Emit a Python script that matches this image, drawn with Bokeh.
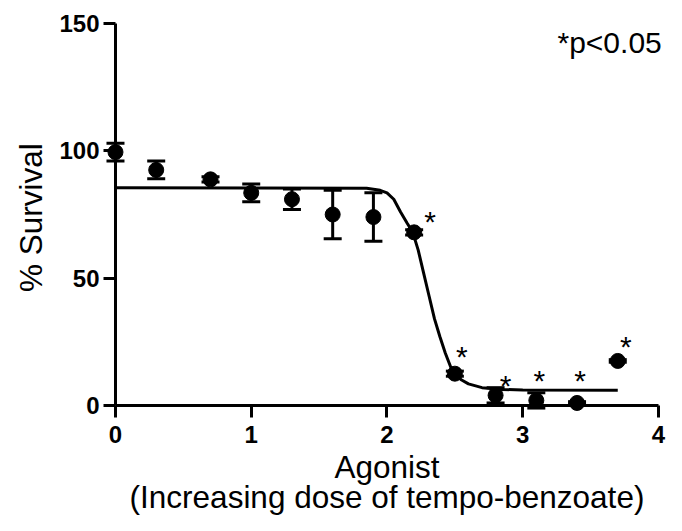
from bokeh.plotting import figure
from bokeh.models import Range1d, FixedTicker, Label, Whisker, TeeHead, ColumnDataSource
from bokeh.core.properties import value
from bokeh.embed import file_html
from bokeh.resources import INLINE

# ---- data ----
dose = [0.0, 0.3, 0.7, 1.0, 1.3, 1.6, 1.9, 2.2, 2.5, 2.8, 3.1, 3.4, 3.7]
survival = [99.5, 92.5, 88.8, 83.5, 81.0, 75.0, 74.0, 68.0, 12.5, 4.0, 2.0, 1.0, 17.5]
sem = [3.5, 3.5, 1.0, 3.5, 4.0, 9.5, 9.5, 1.0, 1.0, 3.0, 3.0, 0.5, 0.5]
significant = [False, False, False, False, False, False, False, True, True, True, True, True, True]

# fitted sigmoid
fit_x = [0.0, 1.85, 1.95, 2.0, 2.05, 2.1, 2.15, 2.19, 2.23, 2.27, 2.31, 2.35,
         2.39, 2.43, 2.47, 2.5, 2.55, 2.6, 2.7, 2.85, 3.0, 3.7]
fit_y = [85.5, 85.3, 84.5, 83.5, 81.0, 76.0, 71.5, 68.0, 61.0, 52.0, 43.0, 34.0,
         27.0, 20.5, 15.0, 12.0, 10.0, 8.5, 7.0, 6.3, 6.1, 6.0]

x_ticks = [0, 1, 2, 3, 4]
y_ticks = [0, 50, 100, 150]

x_title = "Agonist"
x_subtitle = "(Increasing dose of tempo-benzoate)"
y_title = "% Survival"
note = "*p<0.05"

# ---- styles ----
FONT = "Liberation Sans"
star_dx = [16, 7, 10, 3, 3, 8]
star_dy = [-11, -17, -10, -20, -22, -14]

p = figure(width=666, height=515, x_range=Range1d(-0.847, 4.059), y_range=Range1d(-43.19, 159.03),
           output_backend="svg", toolbar_location=None,
           min_border=0, min_border_left=0, min_border_right=0, min_border_top=0, min_border_bottom=0)
p.grid.visible = False
p.outline_line_color = None
p.background_fill_color = "white"
p.border_fill_color = "white"

for ax, ticks, bnds, standoff in ((p.xaxis[0], x_ticks, (0, 4), 8), (p.yaxis[0], y_ticks, (0, 150), 4)):
    ax.ticker = FixedTicker(ticks=ticks, minor_ticks=[])
    ax.fixed_location = 0
    ax.bounds = bnds
    ax.axis_line_width = 3
    ax.axis_line_color = "black"
    ax.major_tick_line_width = 3
    ax.major_tick_line_color = "black"
    ax.major_tick_out = 12
    ax.major_tick_in = 0
    ax.minor_tick_line_color = None
    ax.major_label_text_font = FONT
    ax.major_label_text_font_size = "24px"
    ax.major_label_text_font_style = "bold"
    ax.major_label_text_color = "black"
    ax.major_label_standoff = standoff

# error bars
src = ColumnDataSource(dict(
    x=dose, y=survival,
    upper=[s + e for s, e in zip(survival, sem)],
    lower=[s - e for s, e in zip(survival, sem)],
))
p.add_layout(Whisker(base="x", upper="upper", lower="lower", source=src,
                     line_width=3, line_color="black",
                     upper_head=TeeHead(size=18, line_width=3, line_color="black"),
                     lower_head=TeeHead(size=18, line_width=3, line_color="black")))

# fit curve
p.line(fit_x, fit_y, line_width=3, line_color="black")

# points
p.scatter("x", "y", source=src, size=15, fill_color="black", line_color="black")

# significance stars
sx = [x for x, s in zip(dose, significant) if s]
sy = [y for y, s in zip(survival, significant) if s]
star_src = ColumnDataSource(dict(x=sx, y=sy, dx=star_dx, dy=star_dy, t=["*"] * len(sx)))
p.text("x", "y", text="t", source=star_src, x_offset="dx", y_offset="dy",
       text_font=value(FONT), text_font_size="30px", text_align="center",
       text_baseline="alphabetic", text_color="black")

# titles
p.add_layout(Label(x=-0.619, y=73.8, text=y_title, angle=90, angle_units="deg",
                   text_align="center", text_baseline="alphabetic",
                   text_font=FONT, text_font_size="31.5px", text_color="black"))
p.add_layout(Label(x=2.0, y=-24.0, text=x_title, text_align="center",
                   text_baseline="alphabetic", text_font=FONT, text_font_size="31.5px",
                   text_color="black"))
p.add_layout(Label(x=2.0, y=-36.1, text=x_subtitle, text_align="center",
                   text_baseline="alphabetic", text_font=FONT, text_font_size="31.5px",
                   text_color="black"))
p.add_layout(Label(x=3.256, y=142.7, text=note, text_align="left",
                   text_baseline="alphabetic", text_font=FONT, text_font_size="30px",
                   text_color="black"))

open("out.html", "w").write(file_html(p, INLINE))
